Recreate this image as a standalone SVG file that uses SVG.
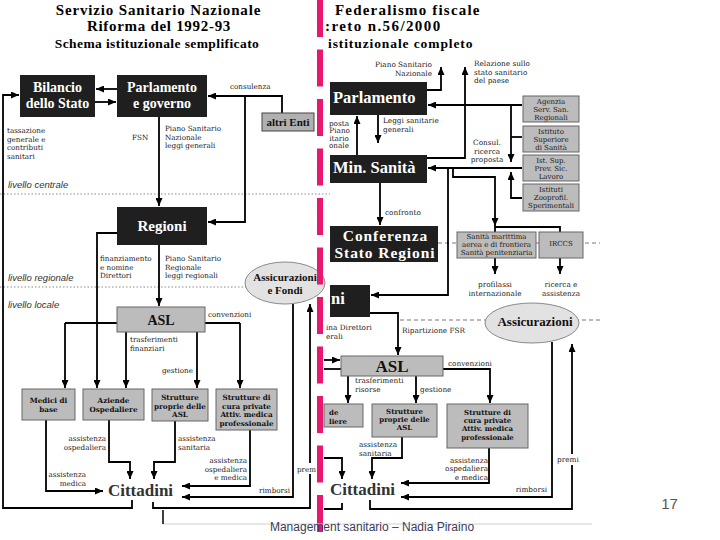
<svg xmlns="http://www.w3.org/2000/svg" width="720" height="540" viewBox="0 0 720 540">
<defs>
<marker id="ah" viewBox="0 0 8 7" refX="8" refY="3.5" markerWidth="8" markerHeight="7" markerUnits="userSpaceOnUse" orient="auto" preserveAspectRatio="none"><path d="M0,0 L8,3.5 L0,7 z" fill="#000"/></marker>
<style>
.bk{fill:#1f1f1f}
.gr{fill:#bcbcbc;stroke:#666;stroke-width:1}
.el{fill:#e2e2e2;stroke:#8a8a8a;stroke-width:1}
.wt{fill:#fff;font-family:"Liberation Serif",serif;font-weight:bold}
.bt{fill:#111;font-family:"Liberation Serif",serif;font-weight:bold}
.tt{fill:#000;font-family:"Liberation Serif",serif;font-weight:bold}
.sb{fill:#111;font-family:"DejaVu Serif",serif;font-weight:bold}
.sr{fill:#1a1a1a;font-family:"DejaVu Serif",serif;font-size:7px}
.lb{fill:#222;font-family:"DejaVu Serif",serif;font-size:7.2px}
.lr{fill:#222;font-family:"DejaVu Serif",serif;font-size:7.3px}
.it{fill:#333;font-family:"Liberation Sans",sans-serif;font-style:italic;font-size:9.5px}
.ln{fill:none;stroke:#000;stroke-width:1.8}
.ar{marker-end:url(#ah)}
.ct{fill:#333;font-family:"Liberation Serif",serif;font-weight:bold;font-size:17px}
.m{text-anchor:middle}
.e{text-anchor:end}
</style>
</defs>
<rect width="720" height="540" fill="#fff"/>

<g id="titles">
<text class="tt m" x="158.5" y="14.5" font-size="15" letter-spacing="0.85">Servizio Sanitario Nazionale</text>
<text class="tt m" x="159" y="31.2" font-size="15" letter-spacing="0.7">Riforma del 1992-93</text>
<text class="tt m" x="157" y="47.5" font-size="13.5" letter-spacing="0.4">Schema istituzionale semplificato</text>
<text class="tt" x="335" y="14.5" font-size="15" letter-spacing="1.2">Federalismo fiscale</text>
<text class="tt" x="325" y="31" font-size="15" letter-spacing="1.4">:reto n.56/2000</text>
<text class="tt" x="328" y="47.5" font-size="13.5" letter-spacing="0.9">istituzionale completo</text>
</g>

<g id="levels">
<line x1="0" y1="194" x2="330" y2="194" stroke="#8a8a8a" stroke-width="1.2" stroke-dasharray="1.5 2"/>
<line x1="0" y1="287" x2="320" y2="287" stroke="#8a8a8a" stroke-width="1.2" stroke-dasharray="1.5 2"/>
<line x1="438" y1="243" x2="600" y2="243" stroke="#777" stroke-width="1" stroke-dasharray="4 3"/>
<line x1="400" y1="320" x2="600" y2="320" stroke="#777" stroke-width="1" stroke-dasharray="4 3"/>
<text class="it" x="8" y="188">livello centrale</text>
<text class="it" x="8" y="281">livello regionale</text>
<text class="it" x="8" y="308">livello locale</text>
</g>

<g id="connectors">
<path class="ln ar" d="M117,89 H96"/>
<path class="ln ar" d="M95,102 H116"/>
<path class="ln ar" d="M282,113 V96 H208"/>
<path class="ln ar" d="M245,96 V222 H208"/>
<path class="ln ar" d="M159,117 V206"/>
<path class="ln ar" d="M132,500 V508 H3 V95 H19"/>
<path class="ln ar" d="M117,233 H97 V388"/>
<path class="ln ar" d="M159,245 V306"/>
<path class="ln" d="M65,323 H240"/>
<path class="ln ar" d="M65,323 V388"/>
<path class="ln ar" d="M240,323 V388"/>
<path class="ln ar" d="M126,332 V388"/>
<path class="ln ar" d="M197,332 V388"/>
<path class="ln ar" d="M46,420 V491 H103"/>
<path class="ln ar" d="M109,420 V462 H130 V479"/>
<path class="ln ar" d="M175,421 V462 H154 V479"/>
<path class="ln ar" d="M250,430 V486 H182"/>
<path class="ln ar" d="M293,303 V497 H182"/>
<path class="ln ar" d="M153,502 V508 H310 V304"/>
<path class="ln ar" d="M427,90 H441 V67"/>
<path class="ln ar" d="M427,158 H465 V67"/>
<path class="ln ar" d="M522,105 H428"/>
<path class="ln ar" d="M511,105 V162"/>
<path class="ln" d="M511,137 H522"/>
<path class="ln ar" d="M522,168 H428"/>
<path class="ln ar" d="M522,198 H511 V172"/>
<path class="ln ar" d="M378,115 V143"/>
<path class="ln ar" d="M357,155 V116"/>
<path class="ln ar" d="M380,183 V225"/>
<path class="ln ar" d="M448,168 V295 H371"/>
<path class="ln ar" d="M453,168 V177 H495 V226"/>
<path class="ln" d="M495,232 V227 H560 V232"/>
<path class="ln ar" d="M495,258 V274"/>
<path class="ln ar" d="M560,258 V274"/>
<path class="ln ar" d="M370,313 H398 V355"/>
<path class="ln ar" d="M324,360 H340"/>
<path class="ln" d="M324,369 H341"/>
<path class="ln ar" d="M443,369 H490 V403"/>
<path class="ln ar" d="M348,376 V403"/>
<path class="ln ar" d="M416,376 V403"/>
<path class="ln ar" d="M324,458 H342 V479"/>
<path class="ln ar" d="M402,437 V458 H372 V479"/>
<path class="ln ar" d="M489,448 V483 H401"/>
<path class="ln ar" d="M552,342 V497 H401"/>
<path class="ln ar" d="M370,500 V509 H572 V344"/>
<path class="ln" d="M342,503 V509 H324"/>
</g>

<g id="n-bilancio"><rect class="bk" x="20" y="75" width="75" height="42"/>
<text class="wt m" x="57.5" y="91.5" font-size="14">Bilancio</text><text class="wt m" x="57.5" y="107.5" font-size="14">dello Stato</text></g>
<g id="n-parlamento-governo"><rect class="bk" x="117" y="75" width="90" height="42"/>
<text class="wt m" x="162" y="91.5" font-size="14">Parlamento</text><text class="wt m" x="162" y="107.5" font-size="14">e governo</text></g>
<g id="n-altri-enti"><rect x="262" y="113" width="52" height="18" fill="#b0b0b0" stroke="#444" stroke-width="1"/>
<text class="bt m" x="288" y="126" font-size="11">altri Enti</text></g>
<g id="n-regioni"><rect class="bk" x="117" y="207" width="90" height="38"/>
<text class="wt m" x="162" y="231" font-size="15">Regioni</text></g>
<g id="n-assic-fondi"><ellipse class="el" cx="285" cy="283" rx="40" ry="21"/>
<text class="bt m" x="285" y="281" font-size="11">Assicurazioni</text><text class="bt m" x="285" y="294" font-size="11">e Fondi</text></g>
<g id="n-asl"><rect class="gr" x="117" y="307" width="88" height="25"/>
<text class="bt m" x="161" y="325" font-size="14">ASL</text></g>
<g id="n-medici"><rect class="gr" x="22" y="389" width="53" height="31"/>
<text class="sb m" x="48.5" y="403" font-size="7.2">Medici di</text><text class="sb m" x="48.5" y="411.5" font-size="7.2">base</text></g>
<g id="n-aziende"><rect class="gr" x="83" y="389" width="61" height="31"/>
<text class="sb m" x="113.5" y="403" font-size="7.2">Aziende</text><text class="sb m" x="113.5" y="411.5" font-size="7.2">Ospedaliere</text></g>
<g id="n-strutt-proprie"><rect class="gr" x="152" y="389" width="56" height="32"/>
<text class="sb m" x="180" y="400" font-size="7.2">Strutture</text><text class="sb m" x="180" y="408.5" font-size="7.2">proprie delle</text><text class="sb m" x="180" y="417" font-size="7.2">ASL</text></g>
<g id="n-strutt-private"><rect class="gr" x="216" y="389" width="61" height="41"/>
<text class="sb m" x="246.5" y="400" font-size="7.2">Strutture di</text><text class="sb m" x="246.5" y="408.5" font-size="7.2">cura private</text><text class="sb m" x="246.5" y="417" font-size="7.2">Attiv. medica</text><text class="sb m" x="246.5" y="425.5" font-size="7.2">professionale</text></g>
<g id="n-cittadini"><text class="ct m" x="140.5" y="496">Cittadini</text></g>

<g id="labels-left">
<text class="lb" x="230" y="89">consulenza</text>
<text class="lb" x="7" y="133">tassazione</text><text class="lb" x="7" y="141.5">generale e</text><text class="lb" x="7" y="150">contributi</text><text class="lb" x="7" y="158.5">sanitari</text>
<text class="lb" x="132" y="140">FSN</text>
<text class="lb" x="165" y="131">Piano Sanitario</text><text class="lb" x="165" y="139.5">Nazionale</text><text class="lb" x="165" y="148">leggi generali</text>
<text class="lb" x="100" y="261">finanziamento</text><text class="lb" x="100" y="269.5">e nomine</text><text class="lb" x="100" y="278">Direttori</text>
<text class="lb" x="165" y="261">Piano Sanitario</text><text class="lb" x="165" y="269.5">Regionale</text><text class="lb" x="165" y="278">leggi regionali</text>
<text class="lb" x="208" y="317">convenzioni</text>
<text class="lb" x="130" y="342">trasferimenti</text><text class="lb" x="130" y="350.5">finanziari</text>
<text class="lb" x="162" y="373">gestione</text>
<text class="lb e" x="106" y="441">assistenza</text><text class="lb e" x="106" y="449.5">ospedaliera</text>
<text class="lb" x="178" y="441">assistenza</text><text class="lb" x="178" y="449.5">sanitaria</text>
<text class="lb e" x="86" y="477">assistenza</text><text class="lb e" x="86" y="485.5">medica</text>
<text class="lb e" x="247" y="463">assistenza</text><text class="lb e" x="247" y="471.5">ospedaliera</text><text class="lb e" x="247" y="480">e medica</text>
<text class="lb e" x="290" y="493">rimborsi</text>
<rect x="296" y="463" width="21" height="11" fill="#fff"/><text class="lb" x="297" y="472">prem</text>
</g>

<g id="n-r-parlamento"><rect class="bk" x="330" y="82" width="97" height="33"/>
<text class="wt" x="333" y="103" font-size="16.5">Parlamento</text></g>
<g id="n-r-min-sanita"><rect class="bk" x="330" y="155" width="97" height="28"/>
<text class="wt" x="333" y="173" font-size="16.5">Min. Sanità</text></g>
<g id="n-r-conferenza"><rect class="bk" x="330" y="226" width="108" height="36"/>
<text class="wt m" x="385.5" y="241" font-size="15.5" letter-spacing="0.9">Conferenza</text><text class="wt m" x="385" y="258.3" font-size="15.5" letter-spacing="0.9">Stato Regioni</text></g>
<g id="n-r-regioni"><rect class="bk" x="330" y="285" width="40" height="32"/>
<text class="wt" x="331" y="304" font-size="16.5">ni</text></g>
<g id="n-r-agenzia"><rect class="gr" x="523" y="96" width="56" height="26"/>
<text class="sr m" x="551" y="104">Agenzia</text><text class="sr m" x="551" y="112.2">Serv. San.</text><text class="sr m" x="551" y="120.4">Regionali</text></g>
<g id="n-r-iss"><rect class="gr" x="523" y="126" width="56" height="26"/>
<text class="sr m" x="551" y="134">Istituto</text><text class="sr m" x="551" y="142.2">Superiore</text><text class="sr m" x="551" y="150.4">di Sanità</text></g>
<g id="n-r-ispesl"><rect class="gr" x="523" y="155" width="56" height="26"/>
<text class="sr m" x="551" y="163">Ist. Sup.</text><text class="sr m" x="551" y="171.2">Prev. Sic.</text><text class="sr m" x="551" y="179.4">Lavoro</text></g>
<g id="n-r-izs"><rect class="gr" x="523" y="184" width="56" height="27"/>
<text class="sr m" x="551" y="192">Istituti</text><text class="sr m" x="551" y="200.2">Zooprofil.</text><text class="sr m" x="551" y="208.4">Sperimentali</text></g>
<g id="n-r-sanita-marittima"><rect class="gr" x="457" y="232" width="79" height="26"/>
<text class="sr m" x="496.5" y="238.8" font-size="6.8">Sanità marittima</text><text class="sr m" x="496.5" y="246.8" font-size="6.8">aerea e di frontiera</text><text class="sr m" x="496.5" y="254.8" font-size="6.8">Sanità penitenziaria</text></g>
<g id="n-r-irccs"><rect class="gr" x="539" y="232" width="44" height="26"/>
<text class="sr m" x="561" y="246">IRCCS</text></g>
<g id="n-r-assicurazioni"><ellipse class="el" cx="532" cy="323" rx="47" ry="20"/>
<text class="bt m" x="535" y="326" font-size="13">Assicurazioni</text></g>
<g id="n-r-asl"><rect class="gr" x="341" y="356" width="102" height="20"/>
<text class="bt m" x="392" y="372" font-size="17">ASL</text></g>
<g id="n-r-aziende"><rect class="gr" x="324" y="404" width="39" height="23"/>
<text class="sb" x="329" y="415" font-size="7">de</text><text class="sb" x="329" y="424" font-size="7">liere</text></g>
<g id="n-r-strutt-proprie"><rect class="gr" x="372" y="404" width="65" height="33"/>
<text class="sb m" x="404.5" y="414" font-size="7">Strutture</text><text class="sb m" x="404.5" y="422.2" font-size="7">proprie delle</text><text class="sb m" x="404.5" y="430.4" font-size="7">ASL</text></g>
<g id="n-r-strutt-private"><rect class="gr" x="447" y="404" width="81" height="44"/>
<text class="sb m" x="487.5" y="415" font-size="7">Strutture di</text><text class="sb m" x="487.5" y="423.2" font-size="7">cura private</text><text class="sb m" x="487.5" y="431.4" font-size="7">Attiv. medica</text><text class="sb m" x="487.5" y="439.6" font-size="7">professionale</text></g>
<g id="n-r-cittadini"><text class="ct m" x="362.5" y="495">Cittadini</text></g>

<g id="labels-right">
<text class="lr e" x="432" y="67">Piano Sanitario</text><text class="lr e" x="432" y="75.5">Nazionale</text>
<text class="lr" x="474" y="66">Relazione sullo</text><text class="lr" x="474" y="74.5">stato sanitario</text><text class="lr" x="474" y="83">del paese</text>
<text class="lr" x="383" y="123">Leggi sanitarie</text><text class="lr" x="383" y="131.5">generali</text>
<text class="lr e" x="349" y="125.5" font-size="6.4">posta</text><text class="lr e" x="350" y="133" font-size="6.4">Piano</text><text class="lr e" x="349" y="140.5" font-size="6.4">itario</text><text class="lr e" x="349" y="148" font-size="6.4">onale</text>
<text class="lr m" x="487" y="145">Consul.</text><text class="lr m" x="487" y="153.5">ricerca</text><text class="lr m" x="487" y="162">proposta</text>
<text class="lr" x="385" y="215">confronto</text>
<text class="lr m" x="495" y="287">profilassi</text><text class="lr m" x="495" y="295.5">internazionale</text>
<text class="lr m" x="561" y="287">ricerca e</text><text class="lr m" x="561" y="295.5">assistenza</text>
<text class="lr" x="402" y="333">Ripartizione FSR</text>
<text class="lr" x="326" y="330">ina Direttori</text><text class="lr" x="326" y="338.5">erali</text>
<text class="lr" x="448" y="366">convenzioni</text>
<text class="lr" x="355" y="383">trasferimenti</text><text class="lr" x="355" y="391.5">risorse</text>
<text class="lr" x="420" y="392">gestione</text>
<text class="lr" x="359" y="447">assistenza</text><text class="lr" x="359" y="455.5">sanitaria</text>
<text class="lr e" x="488" y="462.5">assistenza</text><text class="lr e" x="488" y="471">ospedaliera</text><text class="lr e" x="488" y="479.5">e medica</text>
<text class="lr e" x="547" y="492">rimborsi</text>
<rect x="556" y="454" width="23" height="11" fill="#fff"/><text class="lr" x="557" y="462">premi</text>
</g>

<g id="divider">
<line x1="320" y1="0" x2="320" y2="532" stroke="#e8176f" stroke-width="6" stroke-dasharray="37 12.5"/>
</g>

<g id="footer">
<line x1="163" y1="524" x2="592" y2="524" stroke="#d0d0d0" stroke-width="1"/>
<line x1="163" y1="510" x2="163" y2="524" stroke="#000" stroke-width="1.5"/>
<text x="372" y="531" text-anchor="middle" font-family="Liberation Sans, sans-serif" font-size="12" fill="#3c3c5a">Management sanitario – Nadia Piraino</text>
<text x="669.5" y="509" text-anchor="middle" font-family="Liberation Sans, sans-serif" font-size="15" fill="#555">17</text>
</g>
</svg>
